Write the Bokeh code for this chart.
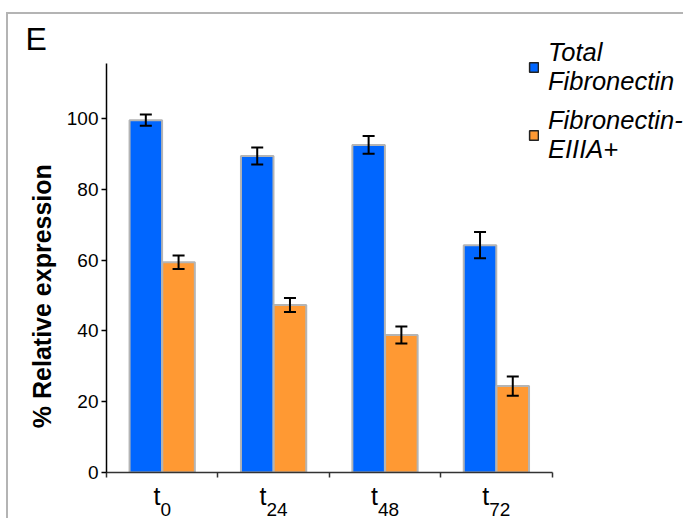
from bokeh.plotting import figure
from bokeh.models import (ColumnDataSource, Range1d, FixedTicker, Whisker, TeeHead,
                          Legend, LegendItem, LinearAxis)
from bokeh.embed import file_html
from bokeh.resources import INLINE

# ---- data ----
categories = ["t", "t", "t", "t"]
subscripts = ["0", "24", "48", "72"]
total_fn = [99.5, 89.4, 92.5, 64.2]
total_err = [1.6, 2.4, 2.5, 3.7]
eiiia_fn = [59.4, 47.3, 38.8, 24.4]
eiiia_err = [1.9, 2.0, 2.4, 2.7]
y_ticks = [0, 20, 40, 60, 80, 100]
series_names = ["Total\nFibronectin", "Fibronectin-\nEIIIA+"]

BLUE = "#0066ff"
ORANGE = "#ff9933"
EDGE = "#b4b4b4"
FONT = "Liberation Sans"

W, H = 683, 518
LEFT, TOP, BOTTOM = 106, 36, 46
PXU = 111.4            # pixels per category
Y_TOP_AXIS = 115.5
n = len(categories)
x_end = (W - LEFT) / PXU
y_end = Y_TOP_AXIS * (H - TOP - BOTTOM) / (H - 63 - BOTTOM)

centers = [i + 0.5 for i in range(n)]
off = 0.147
bw = 0.292

src_a = ColumnDataSource(dict(x=[c - off for c in centers], top=total_fn,
                              upper=[v + e for v, e in zip(total_fn, total_err)],
                              lower=[v - e for v, e in zip(total_fn, total_err)]))
src_b = ColumnDataSource(dict(x=[c + off for c in centers], top=eiiia_fn,
                              upper=[v + e for v, e in zip(eiiia_fn, eiiia_err)],
                              lower=[v - e for v, e in zip(eiiia_fn, eiiia_err)]))

p = figure(width=W, height=H, output_backend="svg", toolbar_location=None,
           x_range=Range1d(0, x_end), y_range=Range1d(0, y_end),
           min_border_left=LEFT, min_border_right=0, min_border_top=TOP,
           min_border_bottom=BOTTOM)
p.outline_line_color = None
p.grid.visible = False
p.background_fill_alpha = 0
p.border_fill_alpha = 0
p.styles = {
    "background": ("linear-gradient(#b4b4b4,#b4b4b4) 6px 12px / 2px calc(100% - 12px) no-repeat,"
                   "linear-gradient(#b4b4b4,#b4b4b4) 6px 12px / calc(100% - 6px) 2px no-repeat")
}

p.vbar(x="x", top="top", width=bw, bottom=0, source=src_a,
       fill_color=BLUE, line_color=EDGE, line_width=2)
p.vbar(x="x", top="top", width=bw, bottom=0, source=src_b,
       fill_color=ORANGE, line_color=EDGE, line_width=2)

for s in (src_a, src_b):
    w = Whisker(base="x", upper="upper", lower="lower", source=s, level="overlay",
                line_color="black", line_width=2,
                upper_head=TeeHead(size=12, line_width=2, line_color="black"),
                lower_head=TeeHead(size=12, line_width=2, line_color="black"))
    p.add_layout(w)

# legend swatches (hidden proxies with a dark outline)
leg_a = p.vbar(x="x", top="top", width=bw, source=src_a, fill_color=BLUE,
               line_color="#222222", line_width=1.5, visible=False)
leg_b = p.vbar(x="x", top="top", width=bw, source=src_b, fill_color=ORANGE,
               line_color="#222222", line_width=1.5, visible=False)

# y axis
ya = p.yaxis[0]
ya.bounds = (0, Y_TOP_AXIS)
ya.ticker = FixedTicker(ticks=y_ticks)
ya.minor_tick_line_color = None
ya.major_tick_in = 0
ya.major_tick_out = 5
ya.major_tick_line_width = 1.5
ya.axis_line_width = 1.5
ya.axis_line_color = "black"
ya.major_label_text_font = FONT
ya.major_label_text_font_size = "19px"
ya.major_label_text_color = "black"
ya.major_label_standoff = 3
ya.axis_label = "% Relative expression" + "\u00a0" * 12
ya.axis_label_text_font = FONT
ya.axis_label_text_font_style = "bold"
ya.axis_label_text_font_size = "25px"
ya.axis_label_text_color = "black"
ya.axis_label_standoff = 8

# category labels: "t" with subscript
MAIN, SUB = 25, 19
t_pos, s_pos = [], []
for c, t, s in zip(centers, categories, subscripts):
    tw = 0.278 * MAIN * len(t)
    sw = 0.556 * SUB * len(s)
    d = (tw - sw) / 2
    t_pos.append(round(c + (d - tw / 2) / PXU, 5))
    s_pos.append(round(c + (d + sw / 2) / PXU, 5))

# x axis: line + ticks at category boundaries (minor ticks), "t" labels
xa = p.xaxis[0]
xa.bounds = (0, n)
xa.ticker = FixedTicker(ticks=t_pos, minor_ticks=list(range(n + 1)))
xa.major_label_overrides = {k: v for k, v in zip(t_pos, categories)}
xa.major_tick_in = 0
xa.major_tick_out = 0
xa.major_tick_line_color = None
xa.minor_tick_in = 0
xa.minor_tick_out = 5
xa.minor_tick_line_width = 1.5
xa.minor_tick_line_color = "#333333"
xa.axis_line_width = 1.5
xa.axis_line_color = "#333333"
xa.major_label_standoff = 4
xa.major_label_text_font = FONT
xa.major_label_text_font_size = f"{MAIN}px"
xa.major_label_text_color = "black"

# subscripts row
sub_axis = LinearAxis(ticker=FixedTicker(ticks=s_pos),
                      major_label_overrides={k: v for k, v in zip(s_pos, subscripts)},
                      axis_line_color=None, major_tick_line_color=None,
                      minor_tick_line_color=None, major_tick_in=0, major_tick_out=0,
                      major_label_standoff=-10, major_label_text_font=FONT,
                      major_label_text_font_size=f"{SUB}px", major_label_text_color="black")
p.add_layout(sub_axis, "below")

# panel letter
p.title.text = "E"
p.title.align = "left"
p.title.offset = 25 - LEFT
p.title.standoff = -40
p.title.text_font = FONT
p.title.text_font_size = "32px"
p.title.text_font_style = "normal"
p.title.text_color = "black"

# legend
legend = Legend(items=[LegendItem(label=series_names[0], renderers=[leg_a]),
                       LegendItem(label=series_names[1], renderers=[leg_b])],
                location=(528 - LEFT, 308), label_text_font=FONT,
                label_text_font_size="25.5px",
                label_text_font_style="italic", label_text_color="black",
                glyph_width=11, glyph_height=12, label_standoff=9, spacing=10,
                padding=0, margin=0, border_line_color=None, background_fill_alpha=0,
                inactive_fill_alpha=0)
p.add_layout(legend)

open("out.html", "w").write(file_html(p, INLINE))
